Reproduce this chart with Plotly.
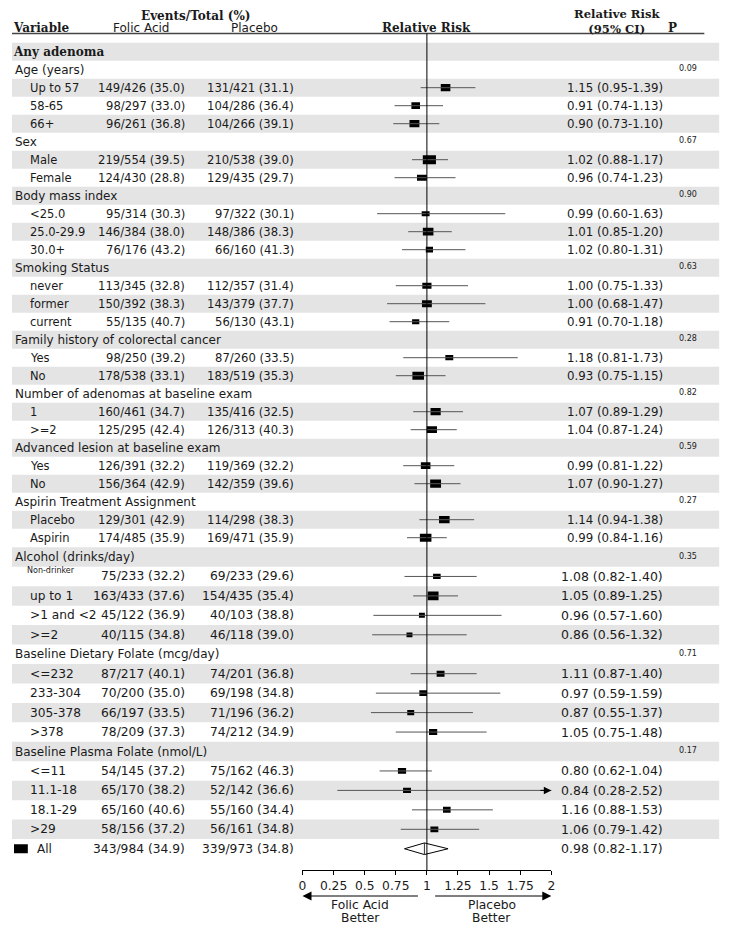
import plotly.graph_objects as go

# ---------------- data ----------------
groups = ["Age (years)", "Sex", "Body mass index", "Smoking Status",
          "Family history of colorectal cancer", "Number of adenomas at baseline exam",
          "Advanced lesion at baseline exam", "Aspirin Treatment Assignment",
          "Alcohol (drinks/day)", "Baseline Dietary Folate (mcg/day)",
          "Baseline Plasma Folate (nmol/L)"]
p_values = ["0.09", "0.67", "0.90", "0.63", "0.28", "0.82", "0.59", "0.27", "0.35", "0.71", "0.17"]

sub_group = [0, 0, 0, 1, 1, 2, 2, 2, 3, 3, 3, 4, 4, 5, 5, 6, 6, 7, 7, 8, 8, 8, 8, 9, 9, 9, 9, 10, 10, 10, 10]
sub_labels = ["Up to 57", "58-65", "66+", "Male", "Female", "<25.0", "25.0-29.9", "30.0+",
              "never", "former", "current", "Yes", "No", "1", ">=2", "Yes", "No",
              "Placebo", "Aspirin", "Non-drinker", "up to 1", ">1 and <2", ">=2",
              "<=232", "233-304", "305-378", ">378", "<=11", "11.1-18", "18.1-29", ">29"]
folic_events = [149, 98, 96, 219, 124, 95, 146, 76, 113, 150, 55, 98, 178, 160, 125, 126, 156,
                129, 174, 75, 163, 45, 40, 87, 70, 66, 78, 54, 65, 65, 58]
folic_total = [426, 297, 261, 554, 430, 314, 384, 176, 345, 392, 135, 250, 538, 461, 295, 391, 364,
               301, 485, 233, 433, 122, 115, 217, 200, 197, 209, 145, 170, 160, 156]
folic_pct = [35.0, 33.0, 36.8, 39.5, 28.8, 30.3, 38.0, 43.2, 32.8, 38.3, 40.7, 39.2, 33.1, 34.7, 42.4,
             32.2, 42.9, 42.9, 35.9, 32.2, 37.6, 36.9, 34.8, 40.1, 35.0, 33.5, 37.3, 37.2, 38.2, 40.6, 37.2]
placebo_events = [131, 104, 104, 210, 129, 97, 148, 66, 112, 143, 56, 87, 183, 135, 126, 119, 142,
                  114, 169, 69, 154, 40, 46, 74, 69, 71, 74, 75, 52, 55, 56]
placebo_total = [421, 286, 266, 538, 435, 322, 386, 160, 357, 379, 130, 260, 519, 416, 313, 369, 359,
                 298, 471, 233, 435, 103, 118, 201, 198, 196, 212, 162, 142, 160, 161]
placebo_pct = [31.1, 36.4, 39.1, 39.0, 29.7, 30.1, 38.3, 41.3, 31.4, 37.7, 43.1, 33.5, 35.3, 32.5, 40.3,
               32.2, 39.6, 38.3, 35.9, 29.6, 35.4, 38.8, 39.0, 36.8, 34.8, 36.2, 34.9, 46.3, 36.6, 34.4, 34.8]
rr = [1.15, 0.91, 0.90, 1.02, 0.96, 0.99, 1.01, 1.02, 1.00, 1.00, 0.91, 1.18, 0.93, 1.07, 1.04, 0.99,
      1.07, 1.14, 0.99, 1.08, 1.05, 0.96, 0.86, 1.11, 0.97, 0.87, 1.05, 0.80, 0.84, 1.16, 1.06]
rr_lo = [0.95, 0.74, 0.73, 0.88, 0.74, 0.60, 0.85, 0.80, 0.75, 0.68, 0.70, 0.81, 0.75, 0.89, 0.87, 0.81,
         0.90, 0.94, 0.84, 0.82, 0.89, 0.57, 0.56, 0.87, 0.59, 0.55, 0.75, 0.62, 0.28, 0.88, 0.79]
rr_hi = [1.39, 1.13, 1.10, 1.17, 1.23, 1.63, 1.20, 1.31, 1.33, 1.47, 1.18, 1.73, 1.15, 1.29, 1.24, 1.22,
         1.27, 1.38, 1.16, 1.40, 1.25, 1.60, 1.32, 1.40, 1.59, 1.37, 1.48, 1.04, 2.52, 1.53, 1.42]

all_folic = (343, 984, 34.9)
all_placebo = (339, 973, 34.8)
all_rr = (0.98, 0.82, 1.17)

tick_vals = [0, 0.25, 0.5, 0.75, 1, 1.25, 1.5, 1.75, 2]
tick_text = ["0", "0.25", "0.5", "0.75", "1", "1.25", "1.5", "1.75", "2"]

# ---------------- style ----------------
box_w = [9.7, 8.7, 10, 13.3, 10, 8, 10.7, 7.3, 9.3, 10, 7.3, 8, 11.7, 10.3, 10.3, 9.7, 11,
         10.7, 11.7, 7.7, 11, 6, 6, 8, 7.7, 7, 8.3, 8.3, 8, 7.7, 8]
box_h = [7.3, 6.7, 7.3, 9, 6, 5, 7.7, 5.7, 6, 7, 5, 5.3, 8, 7.3, 6.7, 6.7, 8.3,
         7.3, 8, 5.3, 8.7, 5, 4.7, 6, 5.7, 5.3, 6, 5.7, 5.3, 6, 5.7]

W, H = 729, 928
OFF = 8  # page offset of the figure (body margin); coordinates below are page pixels
X_LEFT_PX, X_RIGHT_PX = 301.7, 553.3
X_MIN, X_MAX = 0.0, 2.0
PX_PER_UNIT = (X_RIGHT_PX - X_LEFT_PX) / (X_MAX - X_MIN)
AXIS_PX = 870
HEADER_LINE_PX = 33.5
SANS = "DejaVu Sans"
SERIF = "DejaVu Serif"
TXT = "#1a1a1a"
BAND = "#e4e4e4"
CI_COLOR = "#555555"
NUM_SIZE = 11.6
CI_SIZE = 11.8


def row_y(i):
    return 51.7 + 18.0 * i if i < 28 else 557.0 + 19.45 * (i - 28)


# build row list
rows = [("title", "Any adenoma", None)]
for g, name in enumerate(groups):
    rows.append(("group", name, g))
    for k, sg in enumerate(sub_group):
        if sg == g:
            rows.append(("sub", sub_labels[k], k))
rows.append(("all", "All", None))
n_rows = len(rows)

shapes = []
annotations = []


def ann(x, y, text, size, anchor="left", family=SANS, xref="x", color=TXT):
    annotations.append(dict(x=x, y=y, xref=xref, yref="y", text=text, showarrow=False,
                            xanchor=anchor, yanchor="middle", borderpad=0,
                            font=dict(family=family, size=size, color=color)))


# shaded bands
for i in range(n_rows):
    if i % 2 == 0:
        yc = row_y(i)
        y0 = yc - 9 if i == 0 else (row_y(i - 1) + yc) / 2
        y1 = (yc + row_y(i + 1)) / 2 if i < n_rows - 1 else yc + 9.7
        shapes.append(dict(type="rect", xref="x", yref="y", x0=8, x1=723, y0=y0, y1=y1,
                           fillcolor=BAND, line=dict(width=0), layer="below"))

# header
TOP_Y, SUB_Y = 16, 28
ann(194.5, TOP_Y, "<b>Events/Total (%)</b>", 12, "center", SERIF)
ann(8, SUB_Y, "<b>Variable</b>", 12, "left", SERIF)
ann(109, SUB_Y, "Folic Acid", 12, "left")
ann(228, SUB_Y, "Placebo", 12, "left")
ann(427, SUB_Y, "<b>Relative Risk</b>", 12, "center", SERIF)
ann(620, 21.5, "<b>Relative Risk</b><br><b>(95% CI)</b>", 11.6, "center", SERIF)
ann(676, SUB_Y, "<b>P</b>", 12, "center", SERIF)
shapes.append(dict(type="line", xref="x", yref="y", x0=8, x1=708, y0=HEADER_LINE_PX, y1=HEADER_LINE_PX,
                   line=dict(color="#444444", width=1.5)))

ci_x, ci_y = [], []
bar_base, bar_len, bar_y, bar_h = [], [], [], []
arrow_rows = []

for i, (kind, label, idx) in enumerate(rows):
    y = row_y(i)
    s = 1.0 if i < 28 else 1.06
    if kind == "title":
        ann(8, y, "<b>" + label + "</b>", 12, "left", SERIF)
    elif kind == "group":
        ann(10, y, label, 12)
        ann(681, y - 1, p_values[idx], 8, "left")
    elif kind == "sub":
        k = idx
        if label == "Non-drinker":
            ann(22, y - 6, label, 8)
        else:
            ann(25, y, label, 11.5 * s)
        ann(184, y, f"{folic_events[k]}/{folic_total[k]} ({folic_pct[k]:.1f})", NUM_SIZE * s, "right")
        ann(294, y, f"{placebo_events[k]}/{placebo_total[k]} ({placebo_pct[k]:.1f})", NUM_SIZE * s, "right")
        ann(667, y, f"{rr[k]:.2f} ({rr_lo[k]:.2f}-{rr_hi[k]:.2f})", CI_SIZE * s, "right")
        ci_x += [rr_lo[k], rr_hi[k], None]
        ci_y += [y, y, None]
        if rr_hi[k] > X_MAX:
            arrow_rows.append(y)
        bar_base.append(rr[k] - box_w[k] / 2 / PX_PER_UNIT)
        bar_len.append(box_w[k] / PX_PER_UNIT)
        bar_y.append(y)
        bar_h.append(box_h[k])
    else:  # all
        shapes.append(dict(type="rect", xref="x", yref="y", x0=10, x1=24, y0=y - 4.5, y1=y + 4.5,
                           fillcolor="black", line=dict(width=0)))
        ann(32, y, label, 12)
        ann(184, y, f"{all_folic[0]}/{all_folic[1]} ({all_folic[2]:.1f})", NUM_SIZE * s, "right")
        ann(294, y, f"{all_placebo[0]}/{all_placebo[1]} ({all_placebo[2]:.1f})", NUM_SIZE * s, "right")
        ann(667, y, f"{all_rr[0]:.2f} ({all_rr[1]:.2f}-{all_rr[2]:.2f})", CI_SIZE * s, "right")
        all_y = y

fig = go.Figure()

# reference line at 1
shapes.append(dict(type="line", xref="x2", yref="y", x0=1, x1=1, y0=HEADER_LINE_PX, y1=AXIS_PX,
                   line=dict(color="black", width=1)))

fig.add_trace(go.Scatter(x=ci_x, y=ci_y, mode="lines", line=dict(color=CI_COLOR, width=1),
                         xaxis="x2", yaxis="y", hoverinfo="skip", showlegend=False))
fig.add_trace(go.Bar(orientation="h", base=bar_base, x=bar_len, y=bar_y, width=bar_h,
                     marker=dict(color="black", line=dict(width=0)),
                     xaxis="x2", yaxis="y", showlegend=False, hoverinfo="skip"))

# diamond for overall
dh = 5.8
est, lo, hi = all_rr
fig.add_trace(go.Scatter(x=[lo, est, hi, est, lo], y=[all_y, all_y - dh, all_y, all_y + dh, all_y],
                         mode="lines", fill="toself", fillcolor="rgba(255,255,255,0.6)",
                         line=dict(color="black", width=1), xaxis="x2", yaxis="y",
                         showlegend=False, hoverinfo="skip"))
fig.add_trace(go.Scatter(x=[est, est], y=[all_y - dh, all_y + dh], mode="lines",
                         line=dict(color="#333333", width=1), xaxis="x2", yaxis="y",
                         showlegend=False, hoverinfo="skip"))

# arrowheads for CIs beyond axis
for y in arrow_rows:
    annotations.append(dict(x=X_MAX, y=y, ax=X_MAX - 0.1, ay=y, xref="x2", yref="y",
                            axref="x2", ayref="y", text="", showarrow=True, arrowhead=2,
                            arrowsize=1.5, arrowwidth=1, arrowcolor="black", standoff=0))

# bottom direction arrows and labels
ARROW_PX = 896
annotations.append(dict(x=0, y=ARROW_PX, ax=0.94, ay=ARROW_PX, xref="x2", yref="y", axref="x2",
                        ayref="y", text="", showarrow=True, arrowhead=2, arrowsize=1.8,
                        arrowwidth=1, arrowcolor="black"))
annotations.append(dict(x=2, y=ARROW_PX, ax=1.054, ay=ARROW_PX, xref="x2", yref="y", axref="x2",
                        ayref="y", text="", showarrow=True, arrowhead=2, arrowsize=1.8,
                        arrowwidth=1, arrowcolor="black"))
ann(0.463, 905, "Folic Acid", 12.3, "center", xref="x2")
ann(0.463, 918, "Better", 12.3, "center", xref="x2")
ann(1.52, 905, "Placebo", 12.3, "center", xref="x2")
ann(1.52, 918, "Better", 12.3, "center", xref="x2")

fig.update_layout(
    width=W, height=H, margin=dict(l=0, r=0, t=0, b=0),
    paper_bgcolor="white", plot_bgcolor="rgba(0,0,0,0)",
    showlegend=False, barmode="overlay",
    shapes=shapes, annotations=annotations,
    xaxis=dict(domain=[0, 1], range=[OFF, W + OFF], visible=False, fixedrange=True),
    xaxis2=dict(domain=[(X_LEFT_PX - OFF) / W, (X_RIGHT_PX - OFF) / W], range=[X_MIN, X_MAX],
                anchor="free", position=1 - (AXIS_PX - OFF) / H, showline=True,
                linecolor="black", linewidth=1, ticks="outside", ticklen=4, tickcolor="black",
                tickvals=tick_vals, ticktext=tick_text, showgrid=False, zeroline=False,
                tickfont=dict(family=SANS, size=12.3, color=TXT), fixedrange=True),
    yaxis=dict(domain=[0, 1], range=[H + OFF, OFF], visible=False, fixedrange=True),
)

fig.write_html("out.html")
